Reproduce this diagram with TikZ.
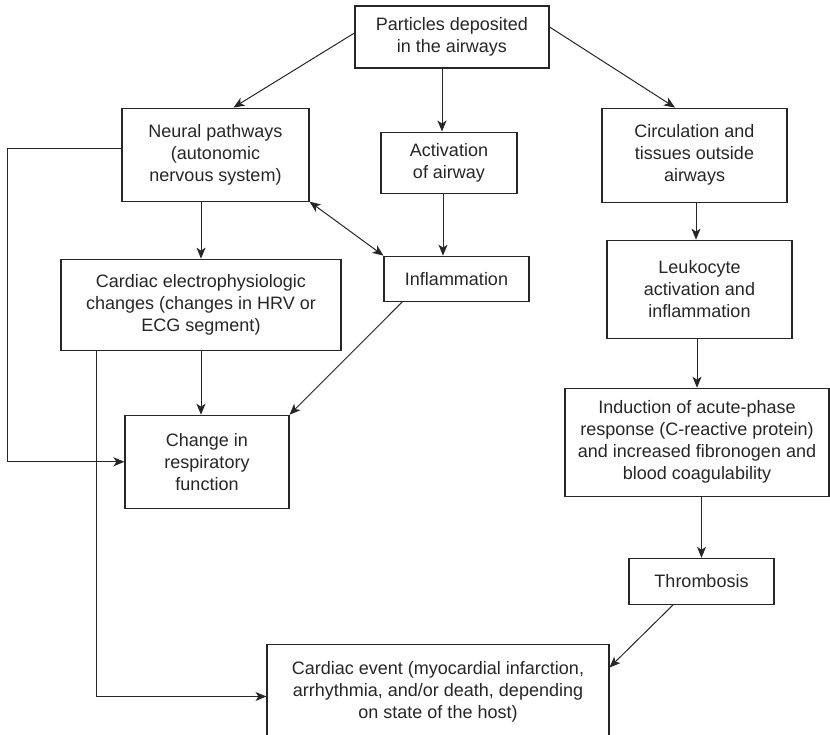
\documentclass[tikz,border=0pt]{standalone}
\usepackage{fontspec}
\setmainfont{Liberation Sans}
\usepackage{tikz}
\usetikzlibrary{positioning,arrows.meta}

\definecolor{inkgray}{HTML}{262626}
\tikzset{
  box/.style={draw=inkgray, line width=1.1pt, text=inkgray, align=center,
    inner sep=4pt, font=\fontsize{18}{22}\selectfont},
  arr/.style={draw=inkgray, line width=1pt,
    -{Stealth[length=11pt,width=9pt,inset=3pt]}},
  dbl/.style={draw=inkgray, line width=1pt,
    {Stealth[length=11pt,width=9pt,inset=3pt]}-{Stealth[length=11pt,width=9pt,inset=3pt]}}
}

\begin{document}
\begin{tikzpicture}[x=1pt, y=1pt]
  \useasboundingbox (0,0) rectangle (830,735);

  % Define nodes
  \node[box, minimum width=194pt, minimum height=62pt] (Particles) at (452,698) {Particles deposited\\in the airways};
  \node[box, minimum width=187pt, minimum height=93pt, below=39pt of Particles, xshift=-236.5pt] (Neural) {Neural pathways\\(autonomic\\nervous system)};
  \node[box, minimum width=136pt, minimum height=61pt, below=63pt of Particles, xshift=-3pt] (Activation) {Activation\\of airway};
  \node[box, minimum width=185pt, minimum height=94pt, below=39pt of Particles, xshift=242.5pt] (Circulation) {Circulation and\\tissues outside\\airways};
  \node[box, minimum width=280pt, minimum height=91pt, below=57pt of Neural, xshift=-14.5pt] (Cardiac) {Cardiac electrophysiologic\\changes (changes in HRV or\\ECG segment)};
  \node[box, minimum width=145pt, minimum height=45pt, below=62pt of Activation, xshift=7.5pt] (Inflammation) {Inflammation};
  \node[box, minimum width=185pt, minimum height=98pt, below=37pt of Circulation, xshift=5pt] (Leukocyte) {Leukocyte\\activation and\\inflammation};
  \node[box, minimum width=164pt, minimum height=93pt, below=64pt of Cardiac, xshift=6pt] (Respiratory) {Change in\\respiratory\\function};
  \node[box, minimum width=264pt, minimum height=108pt, below=49pt of Leukocyte, xshift=-2.5pt] (Induction) {Induction of acute-phase\\response (C-reactive protein)\\and increased fibronogen and\\blood coagulability};
  \node[box, minimum width=145pt, minimum height=46pt, below=61pt of Induction, xshift=4.5pt] (Thrombosis) {Thrombosis};
  \node[box, minimum width=342pt, minimum height=94pt, below=39pt of Thrombosis, xshift=-263.5pt] (Event) {Cardiac event (myocardial infarction,\\arrhythmia, and/or death, depending\\on state of the host)};

  % Connect the nodes
  \draw[arr] ([yshift=4pt]Particles.west) -- ([xshift=18pt]Neural.north);
  \draw[arr] ([xshift=-7pt]Activation.north |- Particles.south) -- ([xshift=-7pt]Activation.north);
  \draw[arr] ([yshift=10pt]Particles.east) -- ([xshift=-19.5pt]Circulation.north);
  \draw[arr] (Neural.south -| Cardiac.north) -- (Cardiac.north);
  \draw[dbl] (Neural.south east) -- (Inflammation.north west);
  \draw[arr] ([xshift=-6pt]Activation.south) -- ([xshift=-6pt]Activation.south |- Inflammation.north);
  \draw[arr] ([yshift=6.5pt]Neural.west) -- ++(-114pt,0) |- (Respiratory.west);
  \draw[arr] (Cardiac.south -| Cardiac.north) -- (Cardiac.north |- Respiratory.north);
  \draw[arr] ([xshift=19pt]Inflammation.south west) -- (Respiratory.north east);
  \draw[arr] ([xshift=36pt]Cardiac.south west) |- ([yshift=-5pt]Event.west);
  \draw[arr] ([xshift=1.5pt]Circulation.south) -- ([xshift=1.5pt]Circulation.south |- Leukocyte.north);
  \draw[arr] (Induction.north |- Leukocyte.south) -- (Induction.north);
  \draw[arr] (Thrombosis.north |- Induction.south) -- (Thrombosis.north);
  \draw[arr] ([xshift=-28.5pt]Thrombosis.south) -- ([yshift=24pt]Event.east);

\end{tikzpicture}
\end{document}
